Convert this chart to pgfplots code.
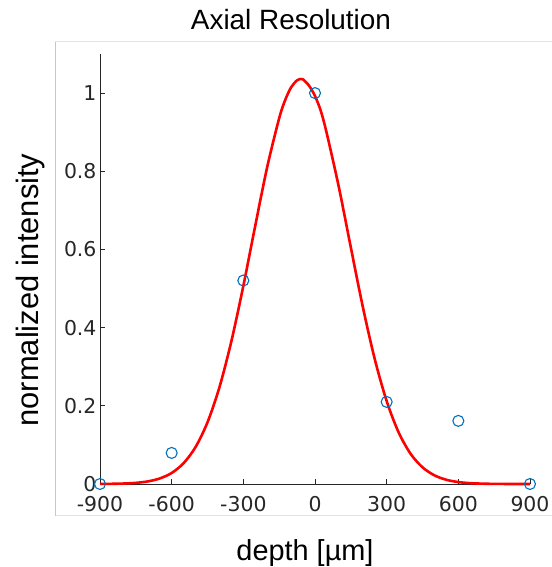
\documentclass[border=0pt]{standalone}
\usepackage{fontspec}
\setmainfont{DejaVu Sans}
\newfontfamily\arial{Liberation Sans}
\usepackage{pgfplots}
\pgfplotsset{compat=1.18}
\definecolor{mblue}{rgb}{0,0.447,0.741}
\definecolor{axgray}{HTML}{262626}
\definecolor{framegray}{HTML}{E3E3E3}
\definecolor{frameleft}{HTML}{C8C8C8}
\pgfplotstableread{
x y
-900 0
-600 0.0795
-300 0.5205
0 1.0
300 0.21
600 0.1615
900 0.0
}\measured
\pgfplotstableread{
x y
-900 0.0002
-850 0.0005
-800 0.0012
-750 0.0029
-700 0.0066
-650 0.0141
-600 0.0282
-550 0.0533
-500 0.0945
-450 0.1578
-400 0.2475
-350 0.3653
-300 0.5067
-250 0.6612
-200 0.8111
-150 0.9356
-125 0.9819
-100 1.0148
-75 1.0327
-59 1.0360
-50 1.0350
-25 1.0190
0 0.9925
25 0.9530
50 0.8950
100 0.7589
150 0.6050
200 0.4536
250 0.3198
300 0.2120
350 0.1321
400 0.0774
450 0.0427
500 0.0221
550 0.0108
600 0.0049
650 0.0021
700 0.0009
750 0.0003
800 0.0001
850 0.0000
900 0.0000
}\fitted
\begin{document}
\begin{tikzpicture}[x=1bp,y=1bp]
\path[use as bounding box] (0,0) rectangle (552,567);
\draw[framegray, line width=1bp] (55,525) -- (552,525);
\draw[framegray, line width=1bp] (55,51) -- (552,51);
\draw[frameleft, line width=1bp] (55,525) -- (55,51);
\begin{axis}[
  at={(100bp,83bp)}, anchor=south west,
  scale only axis, width=430bp, height=430bp,
  xmin=-900, xmax=900, ymin=0, ymax=1.1,
  axis x line=bottom, axis y line=left,
  axis line style={-, axgray, line width=0.8bp},
  tick align=inside,
  major tick length=5bp,
  tick style={axgray, line width=0.8bp},
  xtick={-900,-600,-300,0,300,600,900},
  xticklabels={-900,-600,-300,0,300,600,900},
  ytick={0,0.2,0.4,0.6,0.8,1},
  yticklabels={0,0.2,0.4,0.6,0.8,1},
  ticklabel style={font=\fontsize{20.5}{22}\selectfont, text=axgray},
  xticklabel style={yshift=-9bp},
  clip=false,
]
\addplot[red, line width=2.6bp, smooth] table[x=x,y=y] {\fitted};
\addplot[only marks, mark=o, mark size=5.5bp, mark options={mblue, line width=1.1bp}] table[x=x,y=y] {\measured};
\end{axis}
\node[anchor=base, font=\arial\fontsize{28}{30}\selectfont] at (291,537) {Axial Resolution};
\node[anchor=base, font=\arial\fontsize{29}{31}\selectfont] at (305,6) {depth [µm]};
\node[anchor=base, rotate=90, font=\arial\fontsize{31}{33}\selectfont] at (38,277) {normalized intensity};
\end{tikzpicture}
\end{document}
